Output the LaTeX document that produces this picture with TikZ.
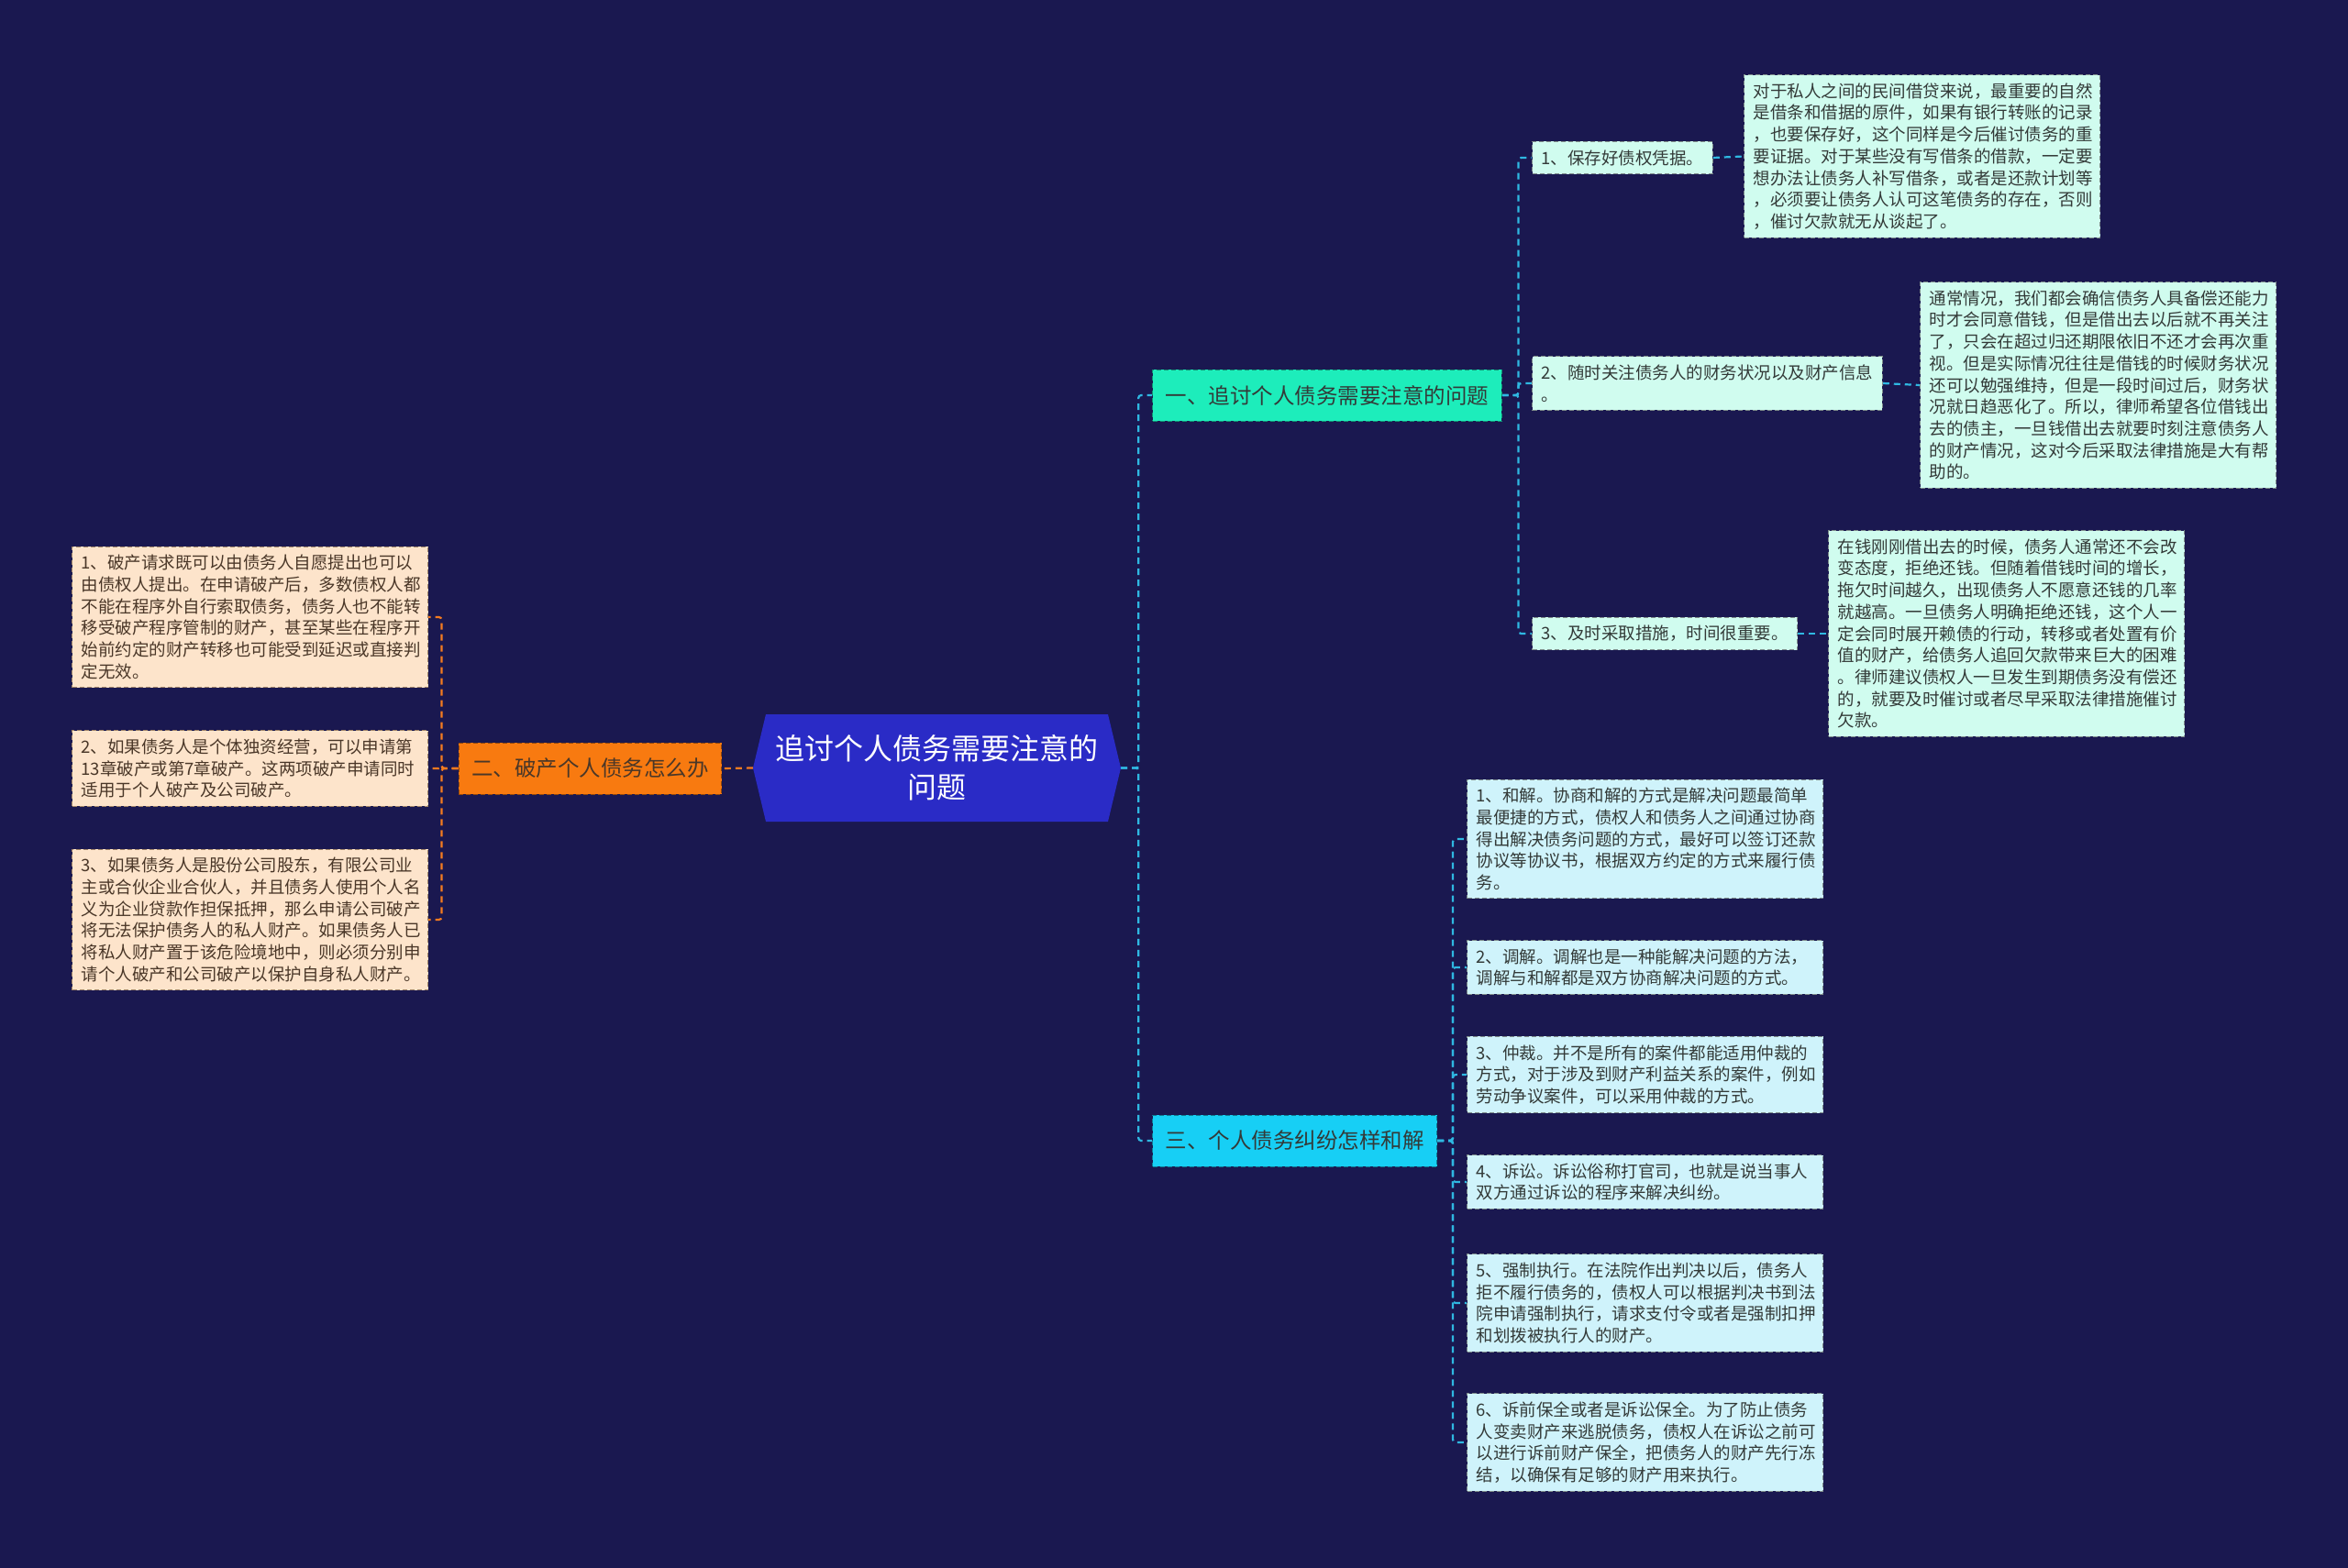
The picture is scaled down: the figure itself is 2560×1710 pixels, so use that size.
\documentclass[tikz,border=0pt]{standalone}
\usepackage{fontspec}
\setmainfont{Noto Sans CJK SC}
\usetikzlibrary{backgrounds}
\definecolor{bg}{HTML}{1A1850}
\definecolor{central}{HTML}{2A2BC6}
\definecolor{mint}{HTML}{1DEDBB}
\definecolor{cyanb}{HTML}{17CFF5}
\definecolor{orangeb}{HTML}{F87A10}
\definecolor{lmint}{HTML}{D0FCEF}
\definecolor{lcyan}{HTML}{CFF3FB}
\definecolor{peach}{HTML}{FDE4CB}
\definecolor{dtext}{HTML}{333A38}
\definecolor{btext}{HTML}{4A3728}
\definecolor{conncol}{HTML}{2FB8E2}
\definecolor{oconncol}{HTML}{F47B20}
\definecolor{bordgray}{HTML}{7E8C8A}
\definecolor{bordbrown}{HTML}{A08468}
\begin{document}
\begin{tikzpicture}[x=1pt,y=-1pt,
  smallbox/.style={font=\fontsize{18.5}{23.7}\selectfont, inner xsep=10pt, inner ysep=9pt,
    align=left, draw, line width=1pt, dash pattern=on 5pt off 3pt},
  detail/.style={smallbox, text width=368pt},
  greenbox/.style={fill=lmint, draw=bordgray, text=dtext},
  bluebox/.style={fill=lcyan, draw=bordgray, text=dtext},
  peachbox/.style={fill=peach, draw=bordbrown, text=btext},
  branchbox/.style={font=\fontsize{23.5}{28}\selectfont, inner xsep=14pt, minimum height=56pt,
    draw, line width=1pt, dash pattern=on 5pt off 3pt, text=dtext},
  cconn/.style={draw=conncol, line width=2.2pt, dash pattern=on 7pt off 5pt, rounded corners=3pt},
  oconn/.style={draw=oconncol, line width=2.2pt, dash pattern=on 7pt off 5pt, rounded corners=3pt}
]
\useasboundingbox (0,0) rectangle (2560,1710);

% central
\fill[central] (821,837.5) -- (835,779) -- (1208,779) -- (1222,837.5) -- (1208,896) -- (835,896) -- cycle;
\node[minimum width=401pt, minimum height=117pt, align=center, text=white,
  font=\fontsize{32}{42}\selectfont] (c) at (1021.5,837.5) {追讨个人债务需要注意的\\问题};

% branches
\node[branchbox, fill=mint, draw=mint!60!black, anchor=west] (b1) at (1256,431) {一、追讨个人债务需要注意的问题};
\node[branchbox, fill=cyanb, draw=cyanb!60!black, anchor=west] (b3) at (1256,1244) {三、个人债务纠纷怎样和解};
\node[branchbox, fill=orangeb, draw=orangeb!60!black, text=btext, anchor=east] (o) at (787,838) {二、破产个人债务怎么办};

% branch 1 children
\node[smallbox, greenbox, anchor=west] (r1) at (1670,172) {1、保存好债权凭据。};
\node[smallbox, greenbox, anchor=west] (r2) at (1670,418) {2、随时关注债务人的财务状况以及财产信息\\。};
\node[smallbox, greenbox, anchor=west] (r3) at (1670,691) {3、及时采取措施，时间很重要。};

\node[detail, greenbox, anchor=west] (r1d) at (1901,170.5) {对于私人之间的民间借贷来说，最重要的自然\\是借条和借据的原件，如果有银行转账的记录\\，也要保存好，这个同样是今后催讨债务的重\\要证据。对于某些没有写借条的借款，一定要\\想办法让债务人补写借条，或者是还款计划等\\，必须要让债务人认可这笔债务的存在，否则\\，催讨欠款就无从谈起了。};
\node[detail, greenbox, anchor=west] (r2d) at (2093,420) {通常情况，我们都会确信债务人具备偿还能力\\时才会同意借钱，但是借出去以后就不再关注\\了，只会在超过归还期限依旧不还才会再次重\\视。但是实际情况往往是借钱的时候财务状况\\还可以勉强维持，但是一段时间过后，财务状\\况就日趋恶化了。所以，律师希望各位借钱出\\去的债主，一旦钱借出去就要时刻注意债务人\\的财产情况，这对今后采取法律措施是大有帮\\助的。};
\node[detail, greenbox, anchor=west] (r3d) at (1993,691) {在钱刚刚借出去的时候，债务人通常还不会改\\变态度，拒绝还钱。但随着借钱时间的增长，\\拖欠时间越久，出现债务人不愿意还钱的几率\\就越高。一旦债务人明确拒绝还钱，这个人一\\定会同时展开赖债的行动，转移或者处置有价\\值的财产，给债务人追回欠款带来巨大的困难\\。律师建议债权人一旦发生到期债务没有偿还\\的，就要及时催讨或者尽早采取法律措施催讨\\欠款。};

% left children
\node[detail, peachbox, anchor=east] (l1) at (467,673) {1、破产请求既可以由债务人自愿提出也可以\\由债权人提出。在申请破产后，多数债权人都\\不能在程序外自行索取债务，债务人也不能转\\移受破产程序管制的财产，甚至某些在程序开\\始前约定的财产转移也可能受到延迟或直接判\\定无效。};
\node[detail, peachbox, anchor=east] (l2) at (467,838) {2、如果债务人是个体独资经营，可以申请第\\13章破产或第7章破产。这两项破产申请同时\\适用于个人破产及公司破产。};
\node[detail, peachbox, anchor=east] (l3) at (467,1003) {3、如果债务人是股份公司股东，有限公司业\\主或合伙企业合伙人，并且债务人使用个人名\\义为企业贷款作担保抵押，那么申请公司破产\\将无法保护债务人的私人财产。如果债务人已\\将私人财产置于该危险境地中，则必须分别申\\请个人破产和公司破产以保护自身私人财产。};

% branch 3 children
\node[detail, bluebox, anchor=west] (k1) at (1599,915) {1、和解。协商和解的方式是解决问题最简单\\最便捷的方式，债权人和债务人之间通过协商\\得出解决债务问题的方式，最好可以签订还款\\协议等协议书，根据双方约定的方式来履行债\\务。};
\node[detail, bluebox, anchor=west] (k2) at (1599,1055) {2、调解。调解也是一种能解决问题的方法，\\调解与和解都是双方协商解决问题的方式。};
\node[detail, bluebox, anchor=west] (k3) at (1599,1172) {3、仲裁。并不是所有的案件都能适用仲裁的\\方式，对于涉及到财产利益关系的案件，例如\\劳动争议案件，可以采用仲裁的方式。};
\node[detail, bluebox, anchor=west] (k4) at (1599,1289) {4、诉讼。诉讼俗称打官司，也就是说当事人\\双方通过诉讼的程序来解决纠纷。};
\node[detail, bluebox, anchor=west] (k5) at (1599,1421) {5、强制执行。在法院作出判决以后，债务人\\拒不履行债务的，债权人可以根据判决书到法\\院申请强制执行，请求支付令或者是强制扣押\\和划拨被执行人的财产。};
\node[detail, bluebox, anchor=west] (k6) at (1599,1573) {6、诉前保全或者是诉讼保全。为了防止债务\\人变卖财产来逃脱债务，债权人在诉讼之前可\\以进行诉前财产保全，把债务人的财产先行冻\\结，以确保有足够的财产用来执行。};

% background and connectors
\begin{scope}[on background layer]
\fill[bg] (0,0) rectangle (2560,1710);
\path[cconn] (c.east) -- ++(19,0) |- (b1.west);
\path[cconn] (c.east) -- ++(19,0) |- (b3.west);
\path[oconn] (c.west) -- (o.east);
\foreach \t in {l1,l2,l3} \path[oconn] (o.west) -- ++(-18,0) |- (\t.east);
\foreach \t in {r1,r2,r3} \path[cconn] (b1.east) -- ++(18,0) |- (\t.west);
\path[cconn] (r1.east) -- (r1d.west);
\path[cconn] (r2.east) -- (r2d.west);
\path[cconn] (r3.east) -- (r3d.west);
\foreach \t in {k1,k2,k3,k4,k5,k6} \path[cconn] (b3.east) -- ++(17,0) |- (\t.west);
\end{scope}
\end{tikzpicture}
\end{document}
